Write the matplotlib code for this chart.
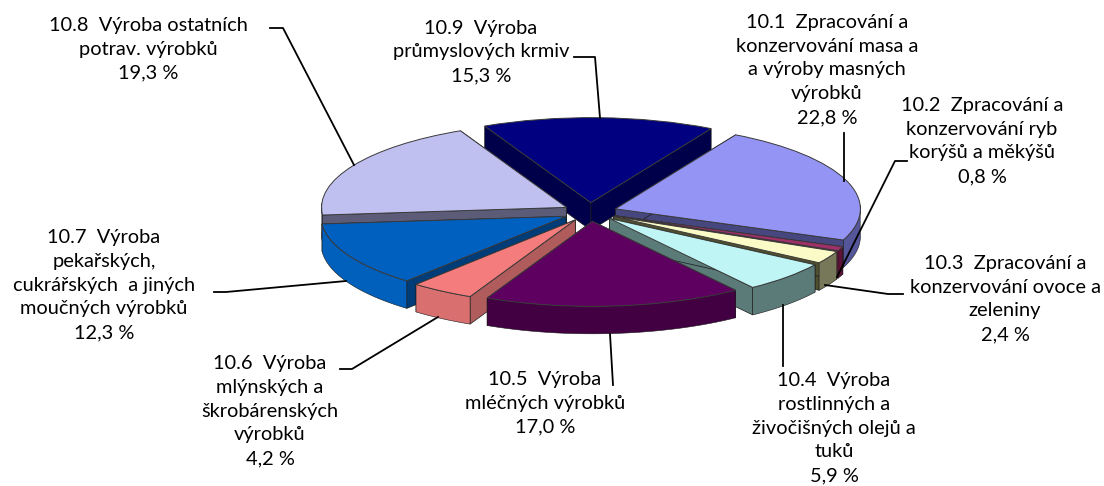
import matplotlib
matplotlib.use("Agg")
import matplotlib.pyplot as plt
import numpy as np

# data
codes = ["10.1", "10.2", "10.3", "10.4", "10.5", "10.6", "10.7", "10.8", "10.9"]
shares = [22.8, 0.8, 2.4, 5.9, 17.0, 4.2, 12.3, 19.3, 15.3]
names = [
    "Zpracování a\nkonzervování masa a\na výroby masných\nvýrobků",
    "Zpracování a\nkonzervování ryb\nkorýšů a měkýšů",
    "Zpracování a\nkonzervování ovoce a\nzeleniny",
    "Výroba\nrostlinných a\nživočišných olejů a\ntuků",
    "Výroba\nmléčných výrobků",
    "Výroba\nmlýnských a\nškrobárenských\nvýrobků",
    "Výroba\npekařských,\ncukrářských  a jiných\nmoučných výrobků",
    "Výroba ostatních\npotrav. výrobků",
    "Výroba\nprůmyslových krmiv",
]

# colours: top face, outer wall, cut faces
top_cols = ["#9494F5", "#A0306A", "#FBFBC8", "#BFF5F5", "#5E0060", "#F47C7C", "#0060C0", "#C0C0F0", "#000080"]
wall_cols = ["#55559A", "#5E1238", "#77775A", "#5B7B78", "#420043", "#D96F6F", "#0060BB", "#6A6A90", "#000060"]
cut_cols = ["#47477F", "#7E1B4C", "#4F4F30", "#5B7B78", "#2E0030", "#B05C5C", "#003C78", "#5C5C78", "#00004A"]

# label block centre and leader line, in pixels
label_pos = [(827, 70), (982, 141), (1005, 299), (834, 428), (545, 403), (270, 411), (104, 285), (148, 49), (481, 52)]
leaders = [
    [(844, 133), (844, 181)],
    [(907, 161), (895, 161), (837, 277)],
    [(903, 294), (888, 294), (825, 285)],
    [(783, 366), (783, 305)],
    [(613, 385), (610, 334)],
    [(340, 369), (352, 369), (438, 317)],
    [(214, 292), (226, 292), (346, 281)],
    [(270, 28), (283, 28), (354, 165)],
    [(574, 57), (595, 57), (600, 118)],
]

W, H = 1104, 486
cx, cy = 590, 212     # pie centre, px
rx, ry = 245, 85      # px per data unit
depth = 27.5 / ry

fig = plt.figure(figsize=(W / 100, H / 100), dpi=100)
ax = fig.add_axes([0, 0, 1, 1])
wedges, _ = ax.pie(shares, explode=[0.11] * len(shares), startangle=60.6, counterclock=False,
                   colors=top_cols, radius=1, wedgeprops=dict(linewidth=0.7, edgecolor="#3a3a3a"))
ax.set_aspect("auto")
ax.set_xlim(-cx / rx, (W - cx) / rx)
ax.set_ylim((cy - H) / ry, cy / ry)
ax.axis("off")

# extrude each wedge downwards, back slices first
for i, w in enumerate(wedges):
    mid = np.radians((w.theta1 + w.theta2) / 2)
    z = 10 - np.sin(mid) * 5
    w.set_zorder(z + 0.2)
    x0, y0 = w.center
    for t in (w.theta1, w.theta2):
        a = np.radians(t)
        xe, ye = x0 + np.cos(a), y0 + np.sin(a)
        ax.fill([x0, xe, xe, x0], [y0, ye, ye - depth, y0 - depth], color=cut_cols[i],
                ec="#1a1a1a", lw=0.5, zorder=z)
    t = np.radians(np.linspace(w.theta1, w.theta2, 80))
    t = t[np.sin(t) < 0.05]
    if len(t) > 1:
        xs, ys = x0 + np.cos(t), y0 + np.sin(t)
        ax.fill(np.r_[xs, xs[::-1]], np.r_[ys, ys[::-1] - depth], color=wall_cols[i],
                ec="#1a1a1a", lw=0.4, zorder=z + 0.1)

# labels and leaders in pixel coordinates
ov = fig.add_axes([0, 0, 1, 1])
ov.set_xlim(0, W)
ov.set_ylim(H, 0)
ov.axis("off")
ov.patch.set_alpha(0)
for i in range(len(codes)):
    pct = f"{shares[i]:.1f}".replace(".", ",")
    txt = f"{codes[i]}  {names[i]}\n{pct} %"
    ov.text(label_pos[i][0], label_pos[i][1], txt, ha="center", va="center", fontsize=14.4,
            family="Lato", linespacing=1.48, color="black")
    xs, ys = zip(*leaders[i])
    ov.plot(xs, ys, color="black", lw=1.3)

fig.savefig("out.png", dpi=100)
